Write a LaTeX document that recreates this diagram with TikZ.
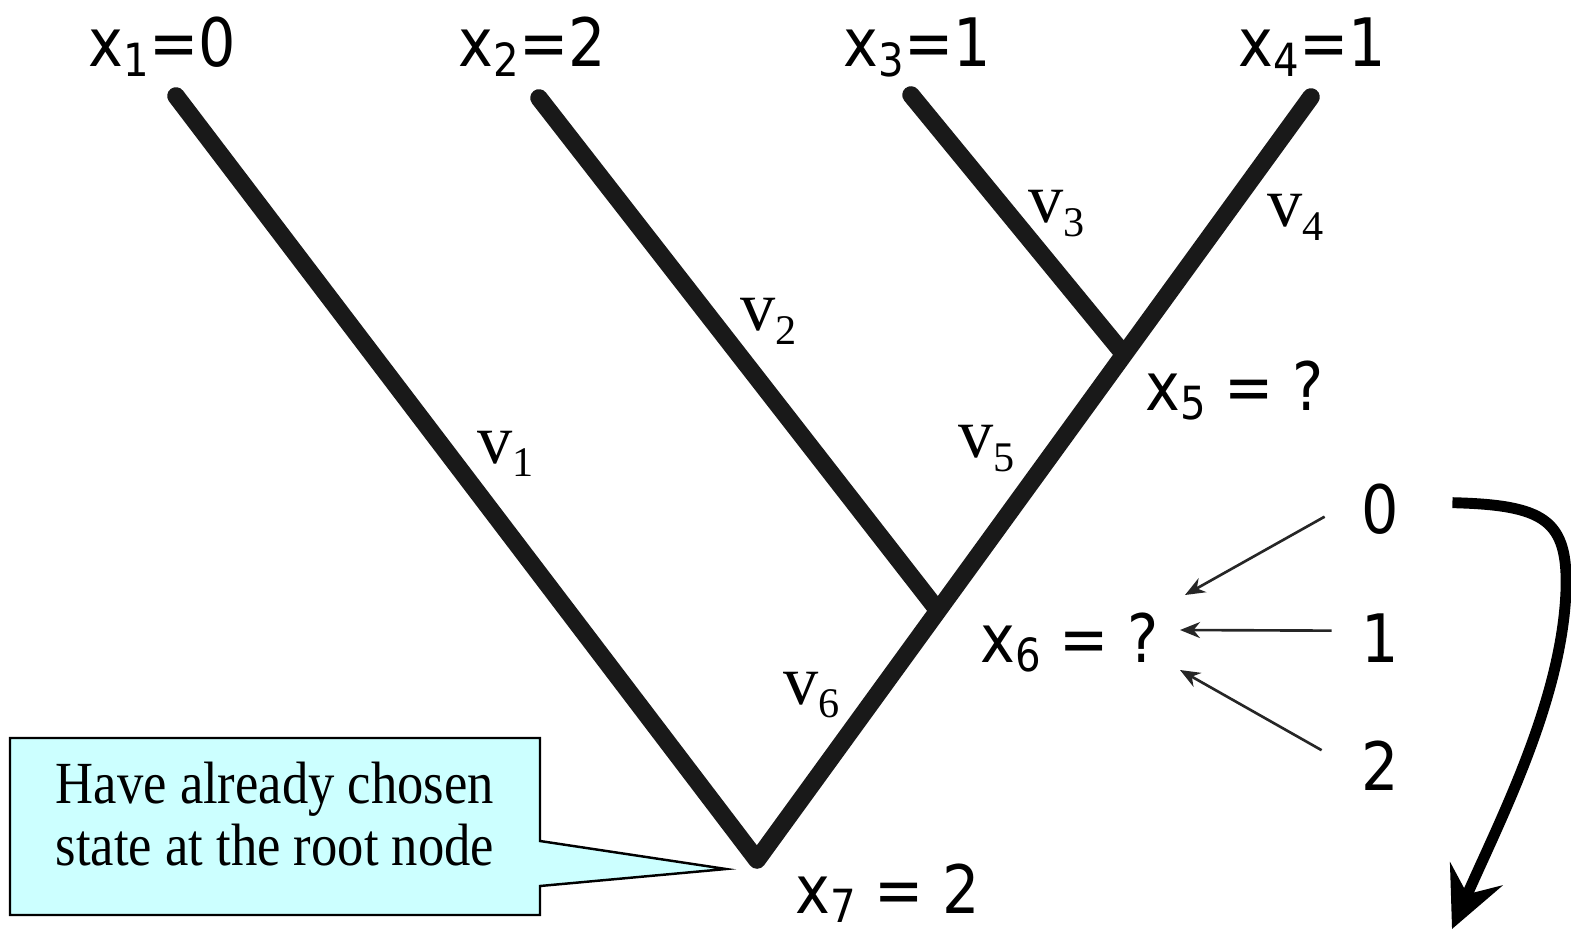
\documentclass[tikz,border=0pt]{standalone}
\usepackage{fontspec}
\setmainfont{Liberation Serif}
\newfontfamily\lblfont[FakeStretch=0.88]{DejaVu Sans}
\newfontfamily\notefont[FakeStretch=0.88]{Liberation Serif}
\usetikzlibrary{arrows.meta, calc}

\definecolor{notecyan}{RGB}{204,255,255}
\newcommand{\xsub}[1]{x\raisebox{-2.8pt}{\fontsize{13}{13}\selectfont #1}}
\newcommand{\vsub}[1]{{\fontsize{20}{20}\selectfont v}\raisebox{-3.7pt}{\fontsize{12}{12}\selectfont #1}}

\begin{document}
\begin{tikzpicture}[x=0.01cm, y=-0.01cm,
  branch/.style={line width=5pt, line cap=round, line join=round, draw=black!90},
  xlbl/.style={font=\lblfont\fontsize{19}{22}\selectfont, inner sep=0pt, anchor=base west},
  digit/.style={font=\lblfont\fontsize{19}{22}\selectfont, inner sep=0pt, anchor=base},
  vlbl/.style={inner sep=0pt, anchor=base west},
  thinarr/.style={-{Stealth[length=2mm, width=1.6mm]}, line width=0.75pt, draw=black!85},
  bigarr/.style={-{Stealth[length=6mm, width=5.7mm, inset=2.2mm]}, line width=3.1pt},
  notebox/.style={draw=black, line width=0.7pt, fill=notecyan},
  notetxt/.style={font=\notefont\fontsize{17}{17.6}\selectfont, align=center, inner sep=0pt}
]
  \useasboundingbox (0,0) rectangle (1571,934);

  % ========== TREE: tips, inner nodes, root ==========
  \coordinate (n1) at (176,96);
  \coordinate (n2) at (539,98);
  \coordinate (n3) at (911,95);
  \coordinate (n4) at (1311,97);
  \coordinate (n5) at (1122,352);
  \coordinate (n6) at (936,608);
  \coordinate (n7) at (757,860);

  \draw[branch] (n1) -- (n7) -- (n4);
  \draw[branch] (n2) -- (n6);
  \draw[branch] (n3) -- (n5);

  % ========== LEAF STATES ==========
  \node[xlbl] (l1) at (88,67)   {\xsub{1}=0};
  \node[xlbl] (l2) at (458,67)  {\xsub{2}=2};
  \node[xlbl] (l3) at (843,67)  {\xsub{3}=1};
  \node[xlbl] (l4) at (1238,67) {\xsub{4}=1};

  % ========== BRANCH LENGTHS ==========
  \node[vlbl] (v1) at (477,463)  {\vsub{1}};
  \node[vlbl] (v2) at (740,331)  {\vsub{2}};
  \node[vlbl] (v3) at (1028,223) {\vsub{3}};
  \node[vlbl] (v4) at (1267,227) {\vsub{4}};
  \node[vlbl] (v5) at (958,458)  {\vsub{5}};
  \node[vlbl] (v6) at (783,704)  {\vsub{6}};

  % ========== INNER STATES ==========
  \node[xlbl] (x5lab) at (1145,410) {\xsub{5} = ?};
  \node[xlbl] (x6lab) at (980,662)  {\xsub{6} = ?};
  \node[xlbl] (x7lab) at (795,913)  {\xsub{7} = 2};

  % ========== CANDIDATES FOR x6 ==========
  \node[digit] (d0) at (1380,533) {0};
  \node[digit] (d1) at (1380,662) {1};
  \node[digit] (d2) at (1380,790) {2};

  \coordinate (p0) at (1185,595);
  \coordinate (p1) at (1180,630);
  \coordinate (p2) at (1180,670);
  \draw[thinarr] ($(d0.west)+(-36,8)$) -- (p0);
  \draw[thinarr] ($(d1.west)+(-29,-7)$) -- (p1);
  \draw[thinarr] ($(d2.west)+(-39,-15)$) -- (p2);

  \coordinate (cend) at (1452,929);
  \draw[bigarr] ($(d0.east)+(53,-6)$) .. controls (1545,505) and (1568,520) .. (1566,590)
    .. controls (1562,700) and (1500,820) .. (cend);

  % ========== CALLOUT ==========
  \coordinate (ptip) at (726,869);
  \draw[notebox] (10,738) -- (540,738) -- (540,841) -- (ptip) -- (540,886)
    -- (540,915) -- (10,915) -- cycle;
  \node[notetxt] (note) at (275,814) {Have already chosen\\state at the root node};

\end{tikzpicture}
\end{document}
